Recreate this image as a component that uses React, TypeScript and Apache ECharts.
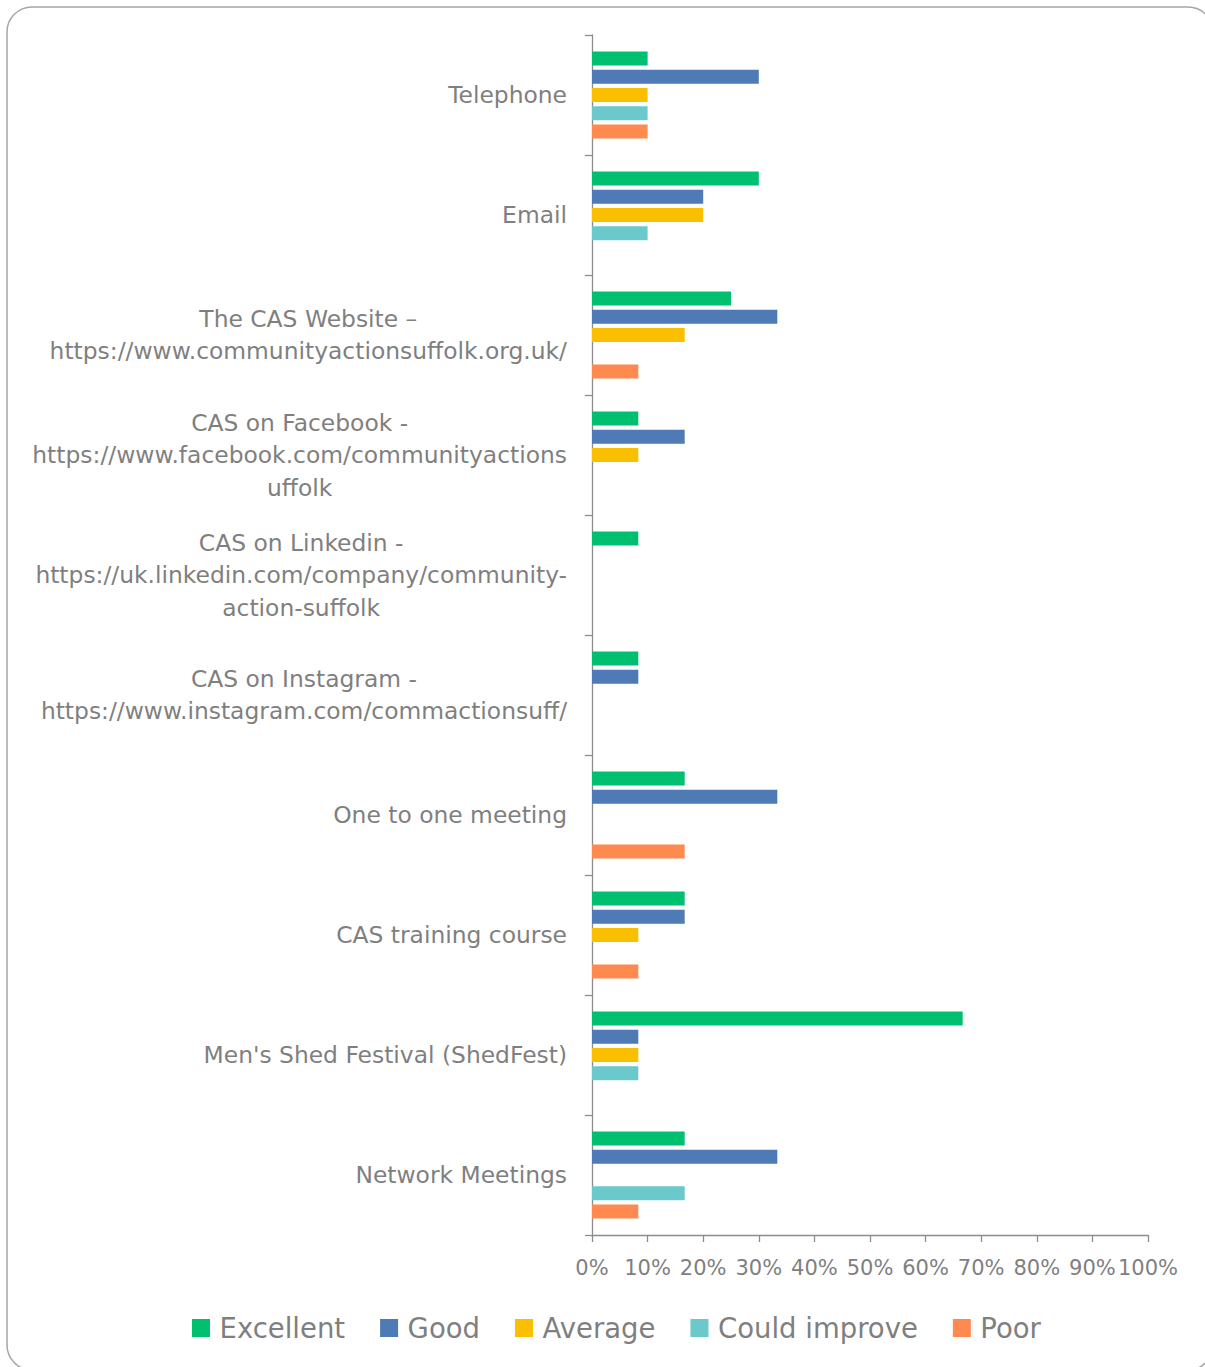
import React, { useEffect, useRef } from "react";
import * as echarts from "echarts";

const categories: string[] = [
  "Telephone",
  "Email",
  "The CAS Website –\nhttps://www.communityactionsuffolk.org.uk/",
  "CAS on Facebook -\nhttps://www.facebook.com/communityactions\nuffolk",
  "CAS on Linkedin -\nhttps://uk.linkedin.com/company/community-\naction-suffolk",
  "CAS on Instagram -\nhttps://www.instagram.com/commactionsuff/",
  "One to one meeting",
  "CAS training course",
  "Men's Shed Festival (ShedFest)",
  "Network Meetings",
];

const seriesNames: string[] = ["Excellent", "Good", "Average", "Could improve", "Poor"];

const excellent: number[] = [10, 30, 25, 8.33, 8.33, 8.33, 16.67, 16.67, 66.67, 16.67];
const good: number[] = [30, 20, 33.33, 16.67, 0, 8.33, 33.33, 16.67, 8.33, 33.33];
const average: number[] = [10, 20, 16.67, 8.33, 0, 0, 0, 8.33, 8.33, 0];
const couldImprove: number[] = [10, 10, 0, 0, 0, 0, 0, 0, 8.33, 16.67];
const poor: number[] = [10, 0, 8.33, 0, 0, 0, 16.67, 8.33, 0, 8.33];

const seriesValues: number[][] = [excellent, good, average, couldImprove, poor];
const seriesColors: string[] = ["#00BF6F", "#4E7AB5", "#FABF00", "#6BC9CC", "#FF8A4F"];

const xMin = 0;
const xMax = 100;
const xInterval = 10;

const FONT = "DejaVu Sans";
const TEXT_COLOR = "#7f7f7f";
const AXIS_COLOR = "#8c8c8c";

export default function App() {
  const ref = useRef<HTMLDivElement | null>(null);

  useEffect(() => {
    if (!ref.current) return;
    const chart = echarts.init(ref.current, undefined, { renderer: "svg" });
    chart.setOption({
      animation: false,
      backgroundColor: "#ffffff",
      graphic: [
        {
          type: "rect",
          silent: true,
          z: -10,
          shape: { x: 7, y: 7, width: 1206, height: 1363, r: 25 },
          style: { fill: "none", stroke: "#a6a6a6", lineWidth: 1.5 },
        },
      ],
      grid: { left: 592, top: 35, width: 556, height: 1200, containLabel: false },
      legend: {
        data: seriesNames,
        left: 187,
        top: 1309,
        icon: "path://M0,0H10V10H0Z",
        itemWidth: 27,
        itemHeight: 18,
        itemGap: 35,
        symbolKeepAspect: true,
        textStyle: { fontFamily: FONT, fontSize: 27.5, color: TEXT_COLOR },
        selectedMode: false,
      },
      xAxis: {
        type: "value",
        min: xMin,
        max: xMax,
        interval: xInterval,
        axisLine: { show: true, lineStyle: { color: AXIS_COLOR, width: 1.3 } },
        axisTick: { show: true, length: 7, lineStyle: { color: AXIS_COLOR, width: 1.3 } },
        splitLine: { show: false },
        axisLabel: {
          formatter: "{value}%",
          fontFamily: FONT,
          fontSize: 21,
          color: TEXT_COLOR,
          margin: 22,
        },
      },
      yAxis: {
        type: "category",
        inverse: true,
        data: categories,
        axisLine: { show: true, lineStyle: { color: AXIS_COLOR, width: 1.3 } },
        axisTick: { show: true, length: 7, lineStyle: { color: AXIS_COLOR, width: 1.3 } },
        axisLabel: {
          margin: 25,
          align: "right",
          fontFamily: FONT,
          fontSize: 23.4,
          color: TEXT_COLOR,
          lineHeight: 32.5,
          formatter: (v: string) => `{c|${v}}`,
          rich: {
            c: {
              align: "center",
              fontFamily: FONT,
              fontSize: 23.4,
              color: TEXT_COLOR,
              lineHeight: 32.5,
            },
          },
        },
      },
      series: seriesNames.map((name, i) => ({
        name,
        type: "bar",
        data: seriesValues[i],
        barCategoryGap: "27.6%",
        barGap: "31%",
        itemStyle: { color: seriesColors[i] },
        emphasis: { disabled: true },
      })),
    });
    return () => chart.dispose();
  }, []);

  return (
    <div
      ref={ref}
      style={{ position: "fixed", left: 0, top: 0, width: 1205, height: 1367, background: "#fff" }}
    />
  );
}
